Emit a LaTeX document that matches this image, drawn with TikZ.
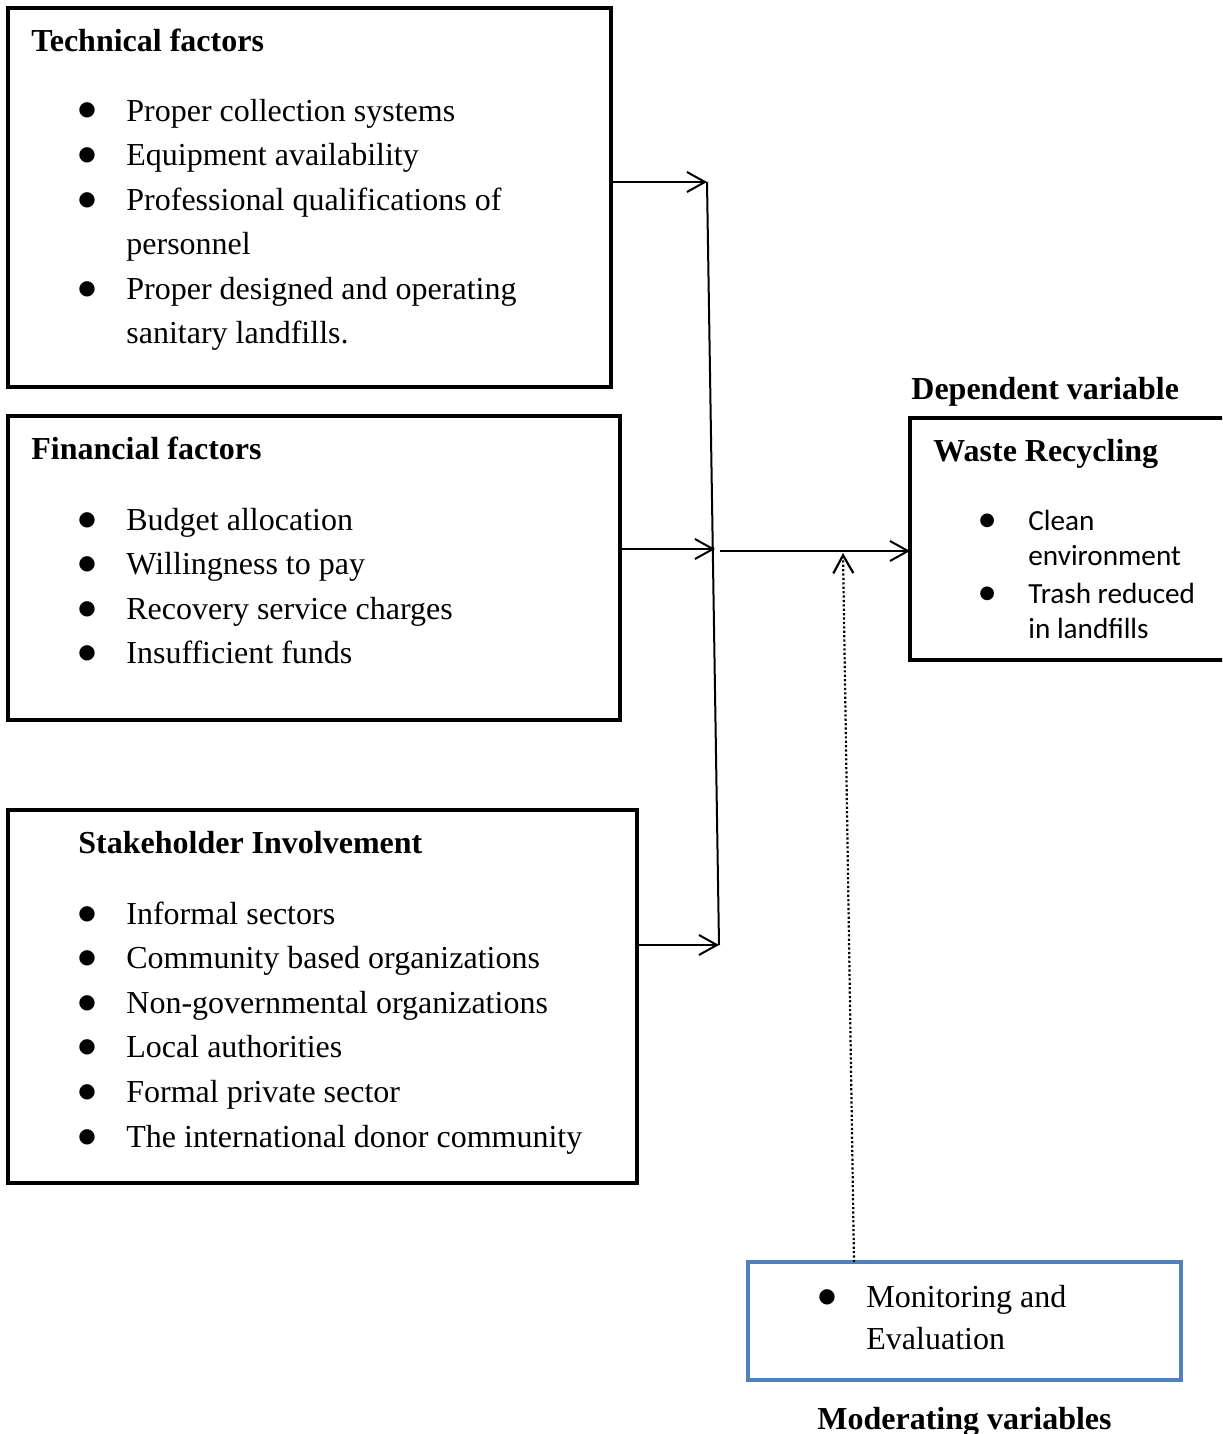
\documentclass[tikz,border=0pt]{standalone}
\usepackage{fontspec}
\setmainfont{Liberation Serif}
\newfontfamily\carlito{Carlito}
\newfontfamily\dejavu{DejaVu Sans}
\usetikzlibrary{arrows.meta}
\definecolor{modblue}{HTML}{4F81BD}
\newcommand{\bul}{\raisebox{2.5pt}{\dejavu\fontsize{10}{10}\selectfont ●}}
\newcommand{\sbul}{\raisebox{2.3pt}{\dejavu\fontsize{9}{9}\selectfont ●}}

\begin{document}
\begin{tikzpicture}[x=0.5pt, y=-0.5pt,
  box/.style={draw=black, line width=2pt, anchor=north west, inner sep=0pt, outer sep=0pt},
  head/.style={anchor=base west, inner sep=0pt, font=\fontsize{16}{22.3}\selectfont\bfseries},
  list/.style={anchor=base west, inner sep=0pt, font=\fontsize{16}{22.3}\selectfont},
  link/.style={line width=1pt, -{Straight Barb[length=9pt, width=10pt]}}]
\clip (0,0) rectangle (1222,1434);

\node [box, minimum width=301.5pt, minimum height=189.5pt] (tech) at (8,8) {};
\node [box, minimum width=306pt, minimum height=152pt] (fin) at (8,416) {};
\node [box, minimum width=314.5pt, minimum height=186.5pt] (stake) at (8,810) {};
\node [box, minimum width=160pt, minimum height=121pt] (waste) at (910,418) {};
\node [box, draw=modblue, minimum width=216.5pt, minimum height=59pt] (mod) at (748,1262) {};

\node [head] (techhead) at (31,52) {Technical factors};
\node [list] (techlist) at (78,121) {\begin{tabular}[t]{@{}p{24pt}@{}l@{}}
  \bul & Proper collection systems\\
  \bul & Equipment availability\\
  \bul & Professional qualifications of\\
       & personnel\\
  \bul & Proper designed and operating\\
       & sanitary landfills.
\end{tabular}};

\node [head] (finhead) at (31,459) {Financial factors};
\node [list] (finlist) at (78,530) {\begin{tabular}[t]{@{}p{24pt}@{}l@{}}
  \bul & Budget allocation\\
  \bul & Willingness to pay\\
  \bul & Recovery service charges\\
  \bul & Insufficient funds
\end{tabular}};

\node [head] (stakehead) at (78,853) {Stakeholder Involvement};
\node [list] (stakelist) at (78,924) {\begin{tabular}[t]{@{}p{24pt}@{}l@{}}
  \bul & Informal sectors\\
  \bul & Community based organizations\\
  \bul & Non-governmental organizations\\
  \bul & Local authorities\\
  \bul & Formal private sector\\
  \bul & The international donor community
\end{tabular}};

\node [head] (dephead) at (911,399) {Dependent variable};
\node [head] (wastehead) at (933,461) {Waste Recycling};
\node [list, font=\carlito\fontsize{14.6}{17.5}\selectfont] (wastelist) at (979,530) {\begin{tabular}[t]{@{}p{24.5pt}@{}l@{}}
  \sbul & Clean\\
        & environment\\[1.5pt]
  \sbul & Trash reduced\\
        & in landfills
\end{tabular}};

\node [list, font=\fontsize{16}{21}\selectfont] (modlist) at (818,1307) {\begin{tabular}[t]{@{}p{24pt}@{}l@{}}
  \bul & Monitoring and\\
       & Evaluation
\end{tabular}};
\node [head] (modhead) at (817,1429) {Moderating variables};

\coordinate (j1) at (707,182);
\coordinate (j2) at (715,549);
\coordinate (j3) at (719,945);
\coordinate (j0) at (720,551);
\coordinate (mtop) at (854,1262);
\coordinate (mtip) at (843,553);

\draw [line width=1pt] (j1) -- (j3);
\draw [link] (tech.east |- j1) -- (j1);
\draw [link] (fin.east |- j2) -- (j2);
\draw [link] (stake.east |- j3) -- (j3);
\draw [link] (j0) -- (waste.west |- j0);
\draw [link, line width=1.1pt, dash pattern=on 1.1pt off 1.1pt] (mod.north -| mtop) -- (mtip);
\end{tikzpicture}
\end{document}
